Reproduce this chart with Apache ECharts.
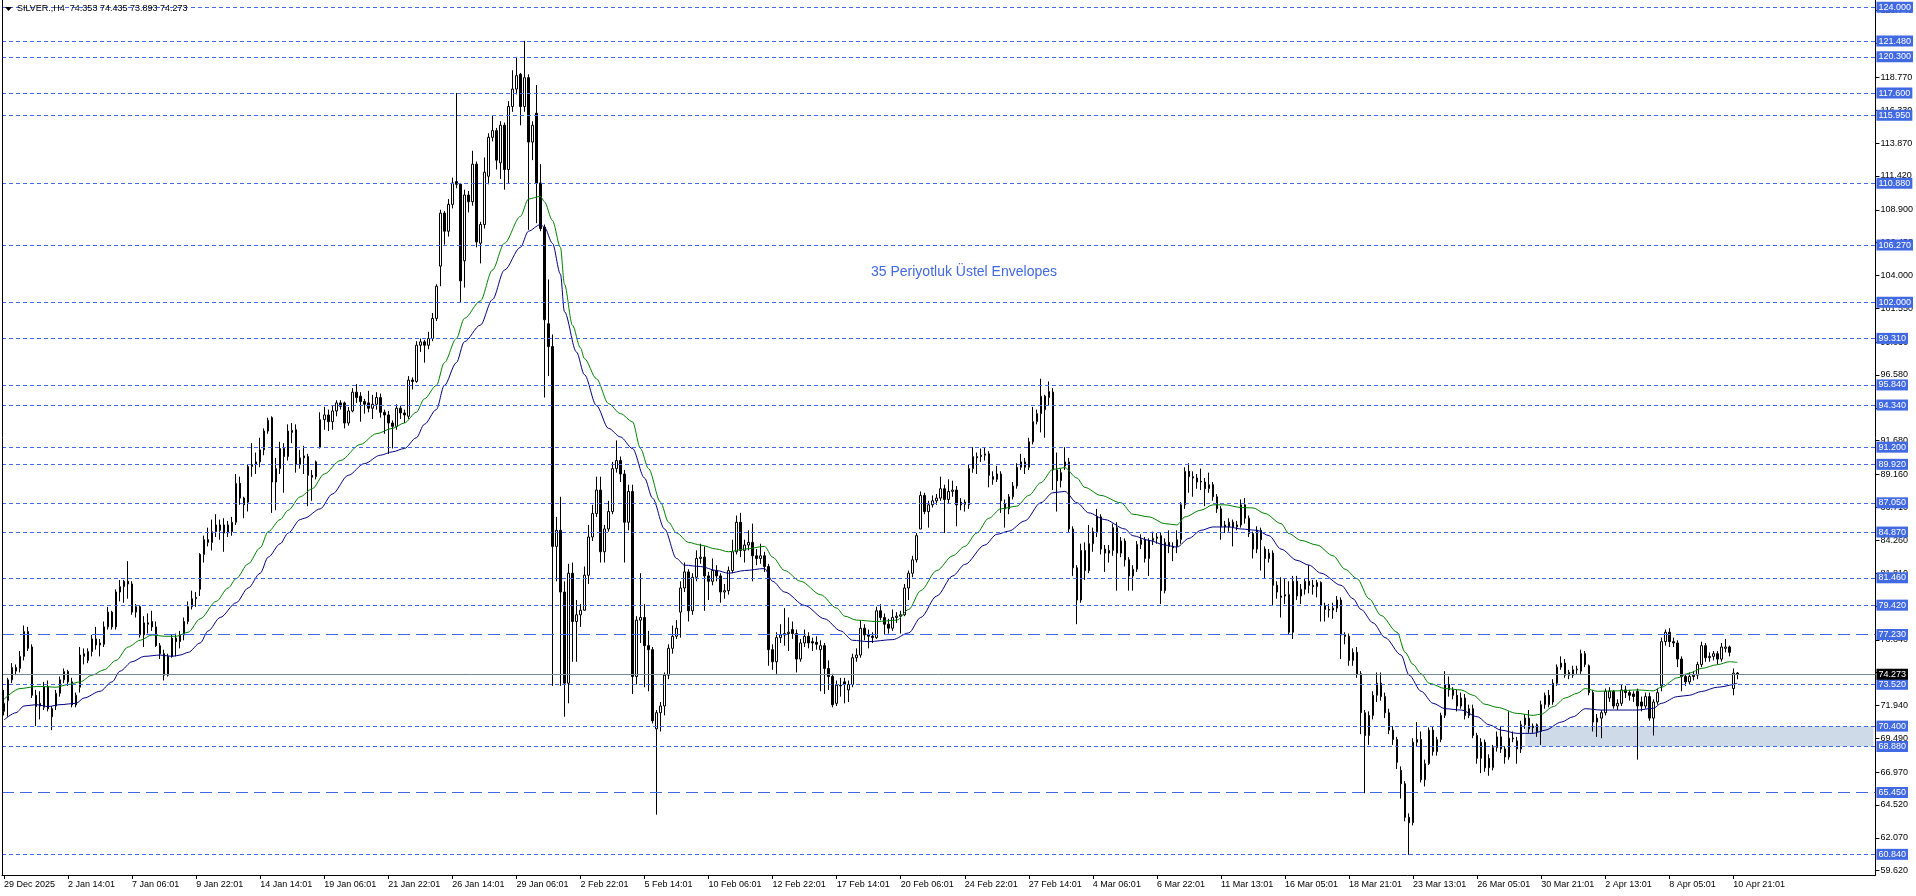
<!DOCTYPE html>
<html><head><meta charset="utf-8">
<script src="https://cdn.jsdelivr.net/npm/echarts@6/dist/echarts.min.js"></script>
<style>html,body{margin:0;padding:0;background:#fff}#c{width:1916px;height:896px}</style>
</head><body><div id="c"></div>
<script>
// ---- data ----
const symbolTitle = 'SILVER.,H4';
const headerOHLC = [74.353, 74.435, 73.893, 74.273];
const tickLabels = ['29 Dec 2025','2 Jan 14:01','7 Jan 06:01','9 Jan 22:01','14 Jan 14:01','19 Jan 06:01','21 Jan 22:01','26 Jan 14:01','29 Jan 06:01','2 Feb 22:01','5 Feb 14:01','10 Feb 06:01','12 Feb 22:01','17 Feb 14:01','20 Feb 06:01','24 Feb 22:01','27 Feb 14:01','4 Mar 06:01','6 Mar 22:01','11 Mar 13:01','16 Mar 05:01','18 Mar 21:01','23 Mar 13:01','26 Mar 05:01','30 Mar 21:01','2 Apr 13:01','8 Apr 05:01','10 Apr 21:01'];
const barsPerTick = 16;
const slotCount = 468;
// candles: [open, close, low, high]
const decJanCandles = [
[71.5,72.1,71.2,73.1],[72.3,73.85,71.1,74.0],[73.85,74.77,73.6,75.1],[74.5,74.77,74.2,75.0],[74.7,75.6,74.4,76.0],
[75.6,77.45,75.3,77.9],[77.45,76.2,76.0,77.8],[76.3,72.7,72.5,76.5],[72.7,71.86,70.4,73.1],[71.9,72.1,70.9,73.0],
[71.8,73.35,71.6,73.7],[73.35,71.7,71.5,73.8],[71.7,71.1,70.1,71.9],[71.9,72.85,71.6,73.1],[72.85,73.85,72.6,74.1],
[73.85,74.47,73.6,74.7],[74.47,73.7,73.4,74.6],[73.7,71.98,71.8,74.0],[71.98,72.7,71.8,72.9],[73.3,75.7,72.9,76.3],
[75.6,75.8,75.0,76.2],[75.3,75.96,75.1,76.2],[75.96,76.9,75.6,77.2],[76.9,76.45,76.1,77.8],[76.6,76.45,75.6,76.9],
[76.5,77.8,76.3,78.2],[77.8,78.9,77.6,79.3],[78.9,77.8,77.6,79.0],[77.8,80.4,77.6,80.6],[80.4,80.8,79.7,81.3],
[80.8,81.2,79.6,81.3],[81.2,81.0,79.9,82.7],[81.0,78.9,78.7,81.2],[78.9,79.3,78.5,79.5],[79.3,77.2,77.0,79.4],
[77.2,78.1,76.3,78.6],[78.1,78.0,77.3,78.8],[78.2,77.8,77.5,79.0],[77.8,76.4,76.3,78.2],[76.4,75.8,75.4,76.6],
[75.8,74.2,73.8,76.1],[74.2,75.6,74.1,75.8],[75.6,76.96,75.5,77.2],[76.96,76.7,75.6,77.3],[76.7,77.2,76.2,77.5],
[77.2,78.2,76.8,78.5],[78.2,79.3,78.0,79.7],[79.3,79.9,79.1,80.5],[79.9,80.0,79.3,80.4],[80.6,83.2,80.1,83.3],
[83.2,84.3,82.6,84.6],[84.3,84.1,83.8,85.2],[84.1,84.9,83.5,85.8],[84.9,85.4,84.5,86.2],[85.4,85.0,84.3,85.8],
[85.4,84.8,83.4,85.9],[85.4,84.8,84.5,85.7],[84.9,85.6,84.6,86.0],[85.6,88.5,85.4,89.2],[88.5,87.4,86.9,89.0],
[87.4,86.9,85.9,87.5],[87.1,89.75,86.4,89.9],[89.75,89.9,89.0,91.5],[89.9,90.1,89.2,90.8],[90.1,91.0,89.7,91.9],
[91.0,92.4,90.6,92.6],[92.4,93.2,92.2,93.4],[93.4,88.6,86.3,93.5],[88.6,89.6,86.5,90.4],[89.6,91.1,89.2,91.6],
[91.1,90.5,87.8,91.5],[90.5,92.4,90.2,92.9],[92.3,92.45,91.5,93.0],[92.5,89.9,89.3,92.9],[89.9,90.4,89.6,91.0],
[90.4,90.55,89.2,91.3],[90.5,89.1,86.8,90.7],[89.1,88.96,87.2,89.5],[89.0,90.1,88.8,90.2],[91.2,93.25,91.1,93.8],
[93.25,93.6,92.5,94.2],[93.6,93.1,92.4,94.0],[93.1,93.9,92.5,94.3],[93.9,94.5,93.5,94.7],[94.5,94.25,94.0,94.7],
[94.5,93.0,92.6,94.6],[93.0,93.9,92.8,94.2],[93.9,95.3,93.8,95.6],[95.3,94.9,94.5,95.9],[95.0,94.6,93.1,95.3],
[94.6,94.4,93.7,94.8],[94.5,94.1,93.8,95.4],[94.1,94.4,93.3,95.1],[94.4,94.9,94.0,95.3],[94.9,93.8,93.4,95.2],
[93.8,93.6,92.2,94.0],[93.6,93.0,90.7,93.9],[93.0,92.75,91.1,93.2],[92.75,94.1,92.5,94.4],[94.1,93.75,93.3,94.3],
[93.75,93.6,93.0,94.0],[93.5,96.2,93.3,96.5],[96.2,96.1,95.5,96.4],[96.1,98.8,96.0,99.1],[98.8,99.05,98.3,99.3],
[99.05,98.8,97.5,99.2],[98.8,99.3,98.5,99.8],[99.3,100.8,99.1,101.2],[100.8,103.2,100.6,103.35],[104.7,108.65,103.2,108.9],
[108.65,107.3,106.3,108.8],[107.3,109.3,106.9,109.7],[109.3,110.9,109.0,111.3],[111.0,110.8,110.5,117.6],[110.8,103.6,101.96,110.9],
[105.1,110.0,103.1,110.4],[110.0,109.5,108.7,110.3],[109.5,112.3,109.2,113.3],[112.3,106.5,106.1,112.5],[106.4,107.8,104.9,108.0],
[107.8,111.7,107.5,112.8],[111.4,114.3,110.8,114.6],[114.3,114.8,114.0,115.9],[114.8,112.6,111.9,115.0],[112.4,115.2,111.2,115.5],
[115.2,111.9,110.4,115.4],[111.9,116.6,110.9,117.0],[116.6,117.9,116.2,119.3],[117.9,118.9,117.5,120.3],[119.0,116.6,115.2,119.1],
[116.6,118.75,116.2,121.5],[118.75,113.95,107.4,119.0],[113.95,115.2,112.6,115.5],[116.1,110.9,107.9,118.2],[110.9,107.5,107.3,112.3],
[107.6,100.7,94.9,107.8],[100.4,98.7,96.5,103.7],[98.7,83.8,73.4,99.6],[83.8,85.0,81.2,86.0]
];
const febCandles = [
[85.0,80.4,73.4,87.5],[80.4,73.6,71.1,81.2],[73.6,81.8,72.1,82.5],[81.8,78.2,75.2,82.6],[78.2,78.7,75.2,79.8],
[78.7,79.04,77.8,79.5],[79.04,81.65,79.0,82.3],[81.65,84.5,81.0,85.4],[84.5,86.25,84.2,86.9],[86.25,88.0,86.0,89.0],
[88.0,83.4,82.6,89.0],[83.4,85.1,82.6,85.4],[85.1,86.4,84.9,87.2],[86.4,89.6,86.2,90.1],[89.6,90.2,89.3,91.7],
[90.2,89.2,88.6,90.5],[89.2,85.6,82.6,89.5],[85.6,87.9,85.0,88.4],[87.9,74.1,72.8,88.4],[74.1,78.3,73.5,78.6],
[78.3,78.5,76.6,81.8],[78.5,76.4,73.3,79.5],[76.4,76.1,73.0,77.5],[76.1,70.8,70.6,76.3],[70.2,71.4,63.8,71.6],
[71.4,71.9,70.0,72.2],[71.9,74.2,71.2,74.4],[74.2,76.2,73.9,76.5],[76.2,77.1,75.8,77.9],[77.1,77.7,76.9,78.3],
[78.9,80.7,77.0,81.2],[80.7,81.9,80.4,82.6],[81.9,79.0,78.2,82.1],[79.0,81.5,78.7,81.8],[81.5,82.9,81.2,83.5],
[82.9,83.0,82.5,84.0],[83.0,81.6,79.0,83.8],[81.6,81.2,79.8,81.9],[81.2,82.0,80.9,82.9],[82.0,81.6,81.2,82.4],
[81.6,80.4,79.6,81.8],[80.4,80.5,79.9,81.0],[80.5,82.0,80.2,82.3],[82.0,83.4,81.8,84.3],[83.4,85.6,83.2,86.1],
[85.6,83.5,83.0,86.3],[83.5,83.9,82.6,84.3],[83.9,84.1,83.5,85.0],[84.1,83.1,81.2,85.5],[83.1,82.9,82.4,83.6],
[82.9,83.1,82.5,84.0],[83.1,82.3,81.9,83.4],[82.3,76.1,74.9,82.5],[76.1,75.2,74.6,76.5],[75.2,77.0,74.3,77.4],
[77.0,77.2,76.6,78.0],[77.2,77.3,76.4,79.2],[77.3,77.4,76.0,78.5],[77.6,77.3,76.9,78.2],[77.3,75.4,74.4,77.6],
[75.4,76.6,75.2,76.9],[76.6,77.1,76.3,77.6],[77.1,76.6,76.2,77.4],[76.7,76.6,76.0,77.0],[76.65,76.5,76.1,77.1],
[76.1,76.4,73.0,76.8],[76.4,74.7,72.8,76.6],[74.7,74.1,73.1,75.3],[74.1,72.0,71.8,74.3],[72.1,73.45,71.9,73.8],
[73.45,73.4,72.6,74.0],[73.7,73.5,72.1,74.0],[73.1,73.5,72.2,73.8],[73.5,75.5,73.3,75.8],[75.5,75.7,75.2,76.2],
[75.7,77.7,75.5,78.3],[77.7,77.2,76.8,78.0],[77.2,77.1,76.2,77.6],[77.1,77.0,76.6,77.4],[77.0,79.0,76.9,79.3],
[79.0,78.5,78.3,79.5],[78.5,78.0,77.2,78.8],[78.0,77.7,77.3,78.4],[77.7,78.5,77.5,79.1],[78.5,78.6,78.1,78.9],
[78.6,78.7,77.3,79.0],[78.7,80.7,78.6,81.0],[80.7,81.8,79.8,82.0],[81.8,82.8,81.5,83.1],[82.8,84.6,82.6,84.8],
[85.1,87.6,85.1,87.9],[87.6,86.4,86.2,87.8],[86.4,86.9,85.2,87.2],[86.9,87.2,86.7,87.6],[87.2,87.4,86.9,87.7],
[87.4,88.1,87.2,89.0],[88.1,87.3,84.8,88.4],[87.3,87.9,87.0,88.8],[87.9,88.0,87.5,88.7],[88.0,86.9,85.3,88.3],
[87.1,86.9,86.5,87.4],[87.1,86.95,86.4,87.3],[86.9,89.6,86.6,89.9],[89.6,90.5,89.3,91.2],[90.4,90.5,89.2,90.8],
[90.5,90.6,90.1,91.1],[90.6,90.7,90.2,91.2],[90.7,89.1,88.2,90.9],[89.0,88.8,88.4,89.4],[88.8,89.2,88.6,89.8],
[89.2,87.2,86.3,89.4],[87.0,86.6,85.2,87.3],[86.6,87.5,86.2,87.7],[87.5,88.3,87.3,88.6],[88.3,89.7,88.1,90.0],
[89.7,90.1,89.5,90.7],[90.1,89.7,89.2,90.4],[89.7,91.6,89.5,91.9],[91.6,93.1,91.4,94.2],[93.1,93.7,92.9,94.0]
];
const marCandles = [
[93.7,95.0,92.3,96.3],[95.0,94.0,91.9,95.1],[94.9,95.35,94.3,96.1],[95.3,89.5,88.0,95.6],[89.5,88.7,86.4,90.8],
[88.7,89.3,88.2,89.6],[89.8,90.1,89.5,91.2],[90.1,85.1,84.8,90.4],[85.1,82.2,81.6,85.3],[82.2,79.8,78.0,82.4],
[79.8,83.5,79.6,84.0],[83.5,82.0,81.3,84.1],[82.0,84.0,81.8,85.4],[84.0,84.9,83.4,85.2],[84.9,86.0,84.5,86.6],
[86.0,83.6,83.2,86.2],[83.6,83.3,81.9,83.9],[83.3,83.5,82.6,83.9],[83.5,85.2,83.1,85.5],[85.2,83.3,80.5,85.6],
[83.3,84.2,83.0,84.5],[84.2,82.8,82.3,84.4],[82.8,81.6,80.5,83.0],[81.6,82.1,80.5,82.4],[82.1,83.95,81.9,84.2],
[83.95,84.3,83.6,84.7],[84.3,82.9,82.6,84.5],[82.9,84.25,81.6,84.4],[84.25,84.4,83.9,84.9],[84.4,84.5,84.0,84.8],
[84.6,80.5,79.5,84.8],[80.5,84.1,80.3,84.4],[84.1,83.8,83.3,85.0],[83.8,83.7,82.7,84.1],[83.8,84.3,83.3,85.0],
[84.3,86.9,84.0,87.1],[86.9,89.4,86.6,89.7],[89.4,89.0,87.8,90.0],[89.0,88.9,87.5,89.4],[88.9,88.6,88.1,89.2],
[88.65,88.6,88.0,89.6],[88.6,88.1,86.8,88.9],[88.1,88.4,87.8,89.3],[88.4,87.5,87.2,88.6],[87.5,86.6,86.3,87.7],
[86.6,85.25,84.3,86.8],[85.4,85.25,84.8,85.7],[85.25,85.6,84.9,85.9],[85.6,85.25,83.8,85.8],[85.25,85.4,85.0,85.7],
[85.4,86.9,85.2,87.3],[86.9,85.9,85.5,87.4],[85.9,84.75,84.5,86.1],[84.75,83.6,82.9,84.9],[83.6,85.0,83.3,85.3],
[85.0,84.3,82.0,85.2],[83.6,82.9,81.4,83.8],[82.9,83.3,82.6,83.6],[83.3,80.9,79.4,83.5],[80.9,80.4,79.9,81.2],
[80.0,80.1,78.5,81.5],[80.1,80.2,79.5,81.4],[80.2,77.4,77.2,81.2],[77.4,81.2,76.9,81.6],[81.2,80.1,79.8,81.6],
[80.1,80.6,79.5,81.0],[80.6,81.2,80.2,81.4],[81.2,80.9,80.3,82.4],[80.9,80.8,80.2,81.3],[80.8,81.1,80.0,81.3],
[81.1,79.4,78.2,81.2],[79.4,79.1,78.2,79.6],[79.1,79.05,78.5,79.5],[79.05,79.2,78.4,79.6],[79.2,79.8,78.9,80.1],
[79.8,77.2,75.4,80.0],[77.2,77.1,76.5,77.4],[77.1,75.3,74.9,77.3],[75.3,75.9,74.9,76.2],[75.9,74.3,74.0,76.3],
[74.3,71.4,69.8,74.5],[71.4,69.7,65.4,71.6],[69.7,71.2,69.0,71.5],[71.2,72.7,70.9,73.0],[72.7,73.6,72.2,74.4],
[73.6,72.6,72.3,74.4],[72.6,71.4,71.0,72.9],[71.4,70.1,69.8,71.7],[70.1,69.4,69.0,70.4],[69.4,67.7,67.2,69.6],
[67.1,66.1,65.0,67.4],[66.1,63.6,63.3,66.3],[63.6,63.2,60.8,63.9],[63.2,69.2,63.0,69.5],[69.2,69.4,68.9,70.7],
[69.4,66.4,66.2,70.0],[66.4,67.6,65.9,67.9],[67.6,70.1,67.5,70.3],[70.1,68.5,68.2,70.4],[68.5,69.4,68.2,69.6],
[69.4,71.2,69.2,71.4],[71.2,73.5,71.0,74.5],[73.5,73.1,72.6,74.1],[73.1,72.7,72.4,73.3],[72.7,71.9,71.5,73.1],
[71.9,72.5,71.7,72.9],[72.5,71.2,70.9,72.8],[71.2,71.7,71.0,72.0],[71.7,69.7,69.5,72.0],[69.7,68.0,67.6,69.9],
[68.0,69.2,66.9,69.5],[69.2,67.3,67.0,69.4],[68.0,67.3,66.7,68.3],[67.3,68.8,67.1,69.0],[68.8,69.6,68.5,70.0],
[69.6,68.7,68.4,70.4],[68.7,68.1,67.6,68.9],[68.1,69.5,67.9,71.5],[69.5,69.45,69.2,70.0],[69.3,68.7,67.6,69.6],
[68.7,70.5,68.4,70.8],[70.5,71.0,70.2,71.3],[71.0,70.2,69.9,71.6],[70.4,70.3,69.9,70.6],[70.5,70.0,69.6,70.6],
[70.0,72.0,69.0,72.3],[72.0,72.7,71.7,72.9],[72.7,72.0,71.8,73.1],[72.2,73.6,72.0,73.9],[73.6,74.8,73.4,75.0],
[74.8,75.1,74.6,75.6],[75.1,74.2,74.0,75.4]
];
const aprCandles = [
[74.4,74.2,73.9,74.6],[74.2,74.6,74.0,74.9],[74.6,74.65,74.3,74.9],[74.5,75.8,74.3,76.1],[75.8,75.0,74.8,76.0],
[74.9,72.9,72.7,75.0],[72.9,70.7,70.0,73.1],[70.7,71.0,69.6,71.3],[71.0,71.4,69.5,71.6],[71.4,73.0,71.2,73.2],
[72.5,73.0,72.2,73.3],[73.0,71.9,71.7,73.1],[71.9,72.1,71.6,72.4],[72.1,73.1,71.9,73.5],[73.1,72.9,72.5,73.4],
[72.9,72.7,72.3,73.1],[72.8,72.6,72.2,73.0],[73.0,71.9,67.9,73.2],[72.2,71.9,71.5,72.6],[71.9,72.6,71.7,72.9],
[72.6,71.0,70.8,72.9],[71.0,72.2,69.7,72.4],[72.2,72.9,72.0,73.2],[73.4,76.7,73.0,77.0],[76.7,77.4,76.4,77.6],
[77.4,76.7,76.3,77.7],[76.7,76.6,76.3,77.0],[76.6,75.4,74.8,76.8],[75.4,74.1,73.0,75.6],[74.1,73.7,73.4,74.3],
[73.7,74.1,73.5,74.4],[74.1,74.2,73.8,74.5],[74.2,75.0,73.9,75.2],[75.0,76.4,74.8,76.7],[76.4,75.5,75.2,76.6],
[75.5,75.6,75.2,75.9],[75.6,75.8,75.3,76.0],[75.8,75.4,75.0,76.0],[75.4,76.3,75.2,76.6],[76.2,76.3,75.9,76.9],
[76.3,75.9,75.6,76.4],[73.2,74.35,72.7,74.7],[74.353,74.273,73.893,74.435]
];
// envelope lines: [bar index, value]
const upperEnvelope = [[0,72.4],[4,73.2],[8,73.35],[10,73.35],[13,73.3],[16,73.5],[19,73.7],[22,74.2],[25,74.6],[28,75.3],[31,76.3],[34,76.8],[37,77.2],[40,77.1],[43,77.1],[46,77.4],[49,78.4],[53,79.7],[56,80.7],[58,81.4],[61,82.5],[64,83.7],[66,84.9],[69,85.8],[71,86.5],[74,87.5],[77,88.1],[80,89.2],[84,90.2],[89,91.4],[93,92.2],[97,92.6],[100,93.0],[103,93.8],[105,94.8],[108,95.8],[110,97.5],[113,99.3],[115,100.8],[119,102.1],[122,104.4],[125,106.4],[129,108.4],[131,109.7],[134,109.9],[135,109.5],[137,108.1],[139,106.1],[140,103.35],[142,100.3],[144,98.6],[145,97.8],[148,96.3],[151,94.45],[154,93.7],[157,93.1],[159,91.1],[161,89.6],[164,87.1],[166,85.6],[168,84.8],[171,84.1],[174,83.9],[178,83.6],[181,83.4],[185,83.6],[190,83.8],[192,83.0],[195,82.0],[199,81.2],[204,80.2],[208,79.2],[210,78.6],[213,78.3],[218,78.2],[223,78.3],[226,79.1],[229,80.5],[233,82.0],[237,83.1],[240,83.8],[243,84.8],[246,85.9],[249,86.6],[253,86.8],[256,87.6],[259,88.55],[262,89.55],[265,89.67],[268,88.9],[270,88.2],[274,87.6],[279,87.05],[282,86.2],[286,86.0],[290,85.5],[293,85.4],[295,86.0],[299,86.5],[302,86.9],[305,86.9],[309,86.7],[312,86.67],[315,86.25],[319,85.5],[321,84.75],[324,84.25],[328,83.9],[332,83.1],[335,82.1],[338,81.4],[341,79.9],[344,78.65],[348,77.4],[350,75.9],[352,75.0],[354,74.3],[356,73.6],[360,73.2],[364,73.1],[367,72.7],[370,72.03],[373,71.8],[378,71.35],[382,71.2],[384,71.3],[387,71.85],[390,72.5],[393,72.85],[395,73.2],[398,73.0],[403,73.03],[408,73.1],[412,73.03],[414,73.3],[418,74.0],[421,74.35],[424,74.7],[428,74.98],[431,75.2],[433,75.15]];
const lowerEnvelope = [[0,70.86],[3,71.4],[5,71.9],[8,72.0],[11,71.86],[14,72.0],[18,72.1],[20,72.5],[24,73.0],[27,73.7],[29,74.5],[32,75.2],[35,75.6],[39,75.7],[42,75.6],[44,75.7],[46,75.9],[49,76.6],[51,77.5],[54,78.5],[58,79.6],[61,80.7],[64,81.8],[66,83.0],[69,84.0],[71,84.8],[74,85.8],[75,85.9],[79,86.6],[82,87.7],[86,89.1],[90,89.97],[94,90.6],[97,90.85],[100,91.1],[103,91.9],[105,92.9],[108,94.0],[110,95.8],[113,97.5],[115,99.06],[119,100.3],[122,102.2],[125,104.4],[129,106.1],[131,107.3],[134,107.8],[135,107.6],[137,106.4],[139,104.1],[140,101.3],[143,98.3],[145,96.6],[148,94.3],[151,92.6],[154,91.96],[157,91.1],[160,88.9],[162,87.4],[165,85.1],[168,82.9],[170,82.4],[174,82.3],[178,82.0],[181,81.8],[185,82.0],[190,82.15],[192,81.2],[195,80.4],[200,79.4],[205,78.4],[209,77.5],[212,76.8],[216,76.7],[222,76.85],[226,77.35],[229,78.5],[233,80.1],[237,81.6],[240,82.45],[245,83.9],[248,84.7],[251,84.94],[255,85.7],[259,87.06],[262,87.8],[265,87.9],[268,87.06],[271,86.3],[275,85.8],[280,85.1],[282,84.6],[286,84.25],[290,83.9],[293,83.75],[296,84.4],[299,85.0],[302,85.25],[306,85.25],[309,85.1],[313,85.0],[316,84.6],[319,83.6],[323,82.76],[326,82.4],[329,81.8],[334,80.9],[337,79.9],[339,79.1],[342,78.1],[345,77.0],[349,75.7],[351,74.2],[354,73.0],[357,72.1],[360,71.7],[364,71.6],[368,71.1],[371,70.5],[374,70.1],[378,69.86],[382,69.86],[385,70.1],[389,70.7],[392,71.1],[395,71.7],[399,71.6],[403,71.6],[408,71.6],[412,71.73],[414,72.1],[418,72.6],[421,72.7],[424,72.98],[428,73.3],[433,73.6]];
const levels = [124.0,121.48,120.3,117.6,115.95,110.88,106.27,102.0,99.31,95.84,94.34,91.2,89.92,87.05,84.87,81.46,79.42,77.23,73.52,70.4,68.88,65.45,60.84];
const longDashLevels = [77.23, 65.45];
const lastPrice = 74.273;
const zoneLevels = [68.88, 70.40];
const zoneStartBar = 380;
const yTickValues = [59.62,62.07,64.52,66.97,69.49,71.94,74.39,76.84,79.36,81.81,84.26,86.71,89.16,91.68,94.13,96.58,99.03,101.55,104.0,106.45,108.9,111.42,113.87,116.33,118.77,121.29,123.74];
const indicatorTitle = '35 Periyotluk Üstel Envelopes';

// ---- chart ----
const candles = [].concat(decJanCandles, febCandles, marCandles, aprCandles);
const categories = [];
for (let i = 0; i < slotCount; i++) categories.push(String(i));
const FONT = '"Liberation Sans", Arial, sans-serif';
const BLUE = '#4169e1';
const showTick = (i) => i % barsPerTick === 0 && (i / barsPerTick) < tickLabels.length;

const lineData = levels.map(v => ({
  yAxis: v,
  lineStyle: { color: BLUE, width: 1, type: longDashLevels.indexOf(v) >= 0 ? [12, 6] : [4, 3] },
  label: { show: true, position: 'end', distance: 1, formatter: v.toFixed(3), backgroundColor: BLUE, color: '#fff',
           fontSize: 9, fontFamily: FONT, padding: [1, 2, 1, 2], lineHeight: 9 }
}));
lineData.push({
  yAxis: lastPrice,
  lineStyle: { color: '#778899', width: 1, type: 'solid' },
  label: { show: true, position: 'end', distance: 1, formatter: lastPrice.toFixed(3), backgroundColor: '#000', color: '#fff',
           fontSize: 9, fontFamily: FONT, padding: [1, 2, 1, 2], lineHeight: 9 }
});

const chart = echarts.init(document.getElementById('c'), null, { renderer: 'canvas' });
chart.setOption({
  animation: false,
  backgroundColor: '#fff',
  grid: { left: 2, right: 40, top: 0, bottom: 21 },
  xAxis: {
    type: 'category', data: categories, boundaryGap: true,
    axisLine: { show: true, lineStyle: { color: '#000', width: 1 } },
    axisTick: { show: true, interval: showTick, alignWithLabel: true, length: 4, lineStyle: { color: '#000' } },
    axisLabel: { show: true, interval: showTick, align: 'left', margin: 5, fontSize: 9, fontFamily: FONT, color: '#000',
                 formatter: (v, i) => { const k = i / barsPerTick; return (i % barsPerTick === 0 && tickLabels[k]) ? tickLabels[k] : ''; } },
    splitLine: { show: false }
  },
  yAxis: {
    type: 'value', position: 'right', min: 59.30, max: 124.54, scale: true,
    axisLine: { show: true, lineStyle: { color: '#000', width: 1 } },
    axisTick: { show: true, customValues: yTickValues, length: 4, lineStyle: { color: '#000' } },
    axisLabel: { show: true, customValues: yTickValues, margin: 5, fontSize: 9, fontFamily: FONT, color: '#000',
                 formatter: v => v.toFixed(3) },
    splitLine: { show: false }
  },
  series: [
    {
      type: 'line', name: 'levels', data: [], z: 1, silent: true,
      markArea: { silent: true, itemStyle: { color: '#cfdae9' },
        data: [[{ xAxis: String(zoneStartBar), yAxis: zoneLevels[1] }, { xAxis: String(slotCount - 1), yAxis: zoneLevels[0] }]] },
      markLine: { silent: true, symbol: ['none', 'none'], animation: false, data: lineData }
    },
    {
      type: 'candlestick', name: 'SILVER', data: candles, z: 3, barWidth: 2,
      itemStyle: { color: '#ffffff', color0: '#000000', borderColor: '#000000', borderColor0: '#000000', borderWidth: 1 }
    },
    {
      type: 'line', name: 'upper', data: upperEnvelope, z: 4, showSymbol: false, smooth: 0.3, smoothMonotone: 'x',
      lineStyle: { color: '#008000', width: 1 }, silent: true
    },
    {
      type: 'line', name: 'lower', data: lowerEnvelope, z: 4, showSymbol: false, smooth: 0.3, smoothMonotone: 'x',
      lineStyle: { color: '#000080', width: 1 }, silent: true
    }
  ],
  graphic: [
    { type: 'line', shape: { x1: 2.5, y1: 0, x2: 2.5, y2: 875 }, style: { stroke: '#000', lineWidth: 1 }, z: 10 },
    { type: 'polygon', shape: { points: [[5, 7], [12, 7], [8.5, 11]] }, style: { fill: '#000' }, z: 10 },
    { type: 'text', x: 17, y: 4, z: 10,
      style: { text: symbolTitle + '  ' + headerOHLC.map(v => v.toFixed(3)).join(' '), font: '9px ' + FONT, fill: '#000' } },
    { type: 'text', x: 871, y: 265, z: 10,
      style: { text: indicatorTitle, font: '14px ' + FONT, fill: BLUE } }
  ]
});
</script>
</body></html>
